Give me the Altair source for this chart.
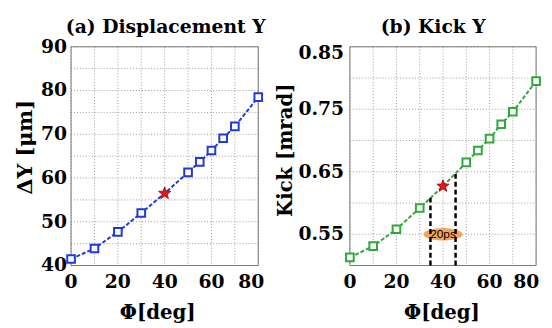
import math
import altair as alt
import pandas as pd

# ---------------- data ----------------
phi = [0, 10, 20, 30, 40, 50, 55, 60, 65, 70, 80]
delta_y = [41.5, 43.9, 47.7, 52.0, 56.5, 61.3, 63.7, 66.3, 69.1, 71.8, 78.5]
kick = [0.513, 0.531, 0.558, 0.592, 0.627, 0.665, 0.684, 0.703, 0.726, 0.746, 0.795]
star_phi = 40
star_dy = 56.5
star_kick = 0.627

win_phi = [34.6, 45.4]            # 20 ps window (panel b)
win_kick_top = [0.608, 0.648]
win_label = "20ps"
win_label_phi = 40
win_label_kick = 0.550

x_grid = [0, 10, 20, 30, 40, 50, 60, 70, 80]
x_ticks = [0, 20, 40, 60, 80]
ya_grid = [40, 45, 50, 55, 60, 65, 70, 75, 80, 85, 90]
ya_ticks = [40, 50, 60, 70, 80, 90]
yb_grid = [0.50, 0.55, 0.60, 0.65, 0.70, 0.75, 0.80, 0.85]
yb_ticks = [0.55, 0.65, 0.75, 0.85]

titles = ["(a) Displacement Y", "(b) Kick Y"]
x_title = "Φ[deg]"
ya_title = "ΔY [μm]"
yb_title = "Kick [mrad]"

# ---------------- panel geometry (two panels in one view) ----------------
PA_W, PB_W, P_H, PB_X0 = 190, 189, 222, 283
TOTAL_W = PB_X0 + PB_W
BLUE, GREEN = "#1f3ad6", "#2fa83a"
FONT = "DejaVu Serif"


def ax(p):
    return p * PA_W / 80


def bx(p):
    return PB_X0 + p * PB_W / 80


def ay(v):
    return P_H * (90 - v) / 50


def by(v):
    return P_H * (0.85 - v) / 0.35


XS = alt.Scale(domain=[0, TOTAL_W], nice=False, zero=False)
YS = alt.Scale(domain=[0, P_H], nice=False, zero=False, reverse=True)


def X(f="x"):
    return alt.X(f + ":Q", scale=XS, axis=None)


def Y(f="y"):
    return alt.Y(f + ":Q", scale=YS, axis=None)


# grid lines
grid_rows = []
for p in x_grid:
    grid_rows.append((ax(p), ax(p), 0.0, float(P_H)))
    grid_rows.append((bx(p), bx(p), 0.0, float(P_H)))
for v in ya_grid:
    grid_rows.append((0.0, float(PA_W), ay(v), ay(v)))
for v in yb_grid:
    grid_rows.append((float(PB_X0), float(TOTAL_W), by(v), by(v)))
df_grid = pd.DataFrame(grid_rows, columns=["x", "x2", "y", "y2"])

df_box = pd.DataFrame({"x": [0.0, float(PB_X0)], "x2": [float(PA_W), float(TOTAL_W)],
                       "y": [0.0, 0.0], "y2": [float(P_H), float(P_H)]})

df_la = pd.DataFrame({"x": [ax(p) for p in phi], "y": [ay(v) for v in delta_y]})
df_lb = pd.DataFrame({"x": [bx(p) for p in phi], "y": [by(v) for v in kick]})
df_sa = df_la[[p != star_phi for p in phi]].reset_index(drop=True)
df_sb = df_lb[[p != star_phi for p in phi]].reset_index(drop=True)
df_star = pd.DataFrame({"x": [ax(star_phi), bx(star_phi)], "y": [ay(star_dy), by(star_kick)]})

df_win = pd.DataFrame({"x": [bx(p) for p in win_phi], "y": [by(0.50)] * 2,
                       "y2": [by(v) for v in win_kick_top]})
df_lab = pd.DataFrame({"x": [bx(win_label_phi)], "y": [by(win_label_kick)], "t": [win_label]})

# tick labels
df_ylab = pd.DataFrame(
    [(-4.0, ay(v), str(v)) for v in ya_ticks]
    + [(PB_X0 - 6.0, by(v) + (6 if v > 0.84 else 0), f"{v:.2f}") for v in yb_ticks],
    columns=["x", "y", "t"])
df_xlab = pd.DataFrame(
    [(ax(p) - (7 if p == 80 else 0), P_H + 8.0, str(p)) for p in x_ticks]
    + [(bx(p) - (10 if p == 80 else 0), P_H + 8.0, str(p)) for p in x_ticks],
    columns=["x", "y", "t"])
df_title = pd.DataFrame({"x": [96.0, 367.5], "y": [-14.0, -14.0], "t": titles})
df_xt = pd.DataFrame({"x": [88.0, 376.5], "y": [276.0, 276.0], "t": [x_title, x_title]})
df_yta = pd.DataFrame({"x": [-46.0], "y": [102.0], "t": [ya_title]})
df_ytb = pd.DataFrame({"x": [218.0], "y": [105.0], "t": [yb_title]})

# ---------------- marker shapes (unit box -1..1) ----------------
pts = [(math.cos(2 * math.pi * k / 36), 0.32 * math.sin(2 * math.pi * k / 36)) for k in range(36)]
ellipse_path = "M " + " L ".join(f"{px:.3f} {py:.3f}" for px, py in pts) + " Z"
spts = []
for k in range(10):
    r = 1.0 if k % 2 == 0 else 0.42
    a = -math.pi / 2 + k * math.pi / 5
    spts.append((r * math.cos(a), r * math.sin(a)))
star_path = "M " + " L ".join(f"{px:.3f} {py:.3f}" for px, py in spts) + " Z"

# ---------------- layers ----------------
grid = alt.Chart(df_grid).mark_rule(color="#9a9a9a", strokeWidth=1, strokeDash=[1, 2]).encode(
    x=X(), x2="x2:Q", y=Y(), y2="y2:Q")
box = alt.Chart(df_box).mark_rect(fillOpacity=0, stroke="#777777", strokeWidth=1).encode(
    x=X(), x2="x2:Q", y=Y(), y2="y2:Q")
line_a = alt.Chart(df_la).mark_line(color=BLUE, strokeWidth=2, strokeDash=[4, 2]).encode(x=X(), y=Y())
line_b = alt.Chart(df_lb).mark_line(color=GREEN, strokeWidth=2, strokeDash=[4, 2]).encode(x=X(), y=Y())

ell = alt.Chart(df_lab).mark_point(shape=ellipse_path, size=1550, filled=True, fill="#f5a35c",
                                   strokeWidth=0, opacity=1).encode(x=X(), y=Y())
win = alt.Chart(df_win).mark_rule(color="black", strokeWidth=2.5, strokeDash=[5, 3]).encode(
    x=X(), y=Y(), y2="y2:Q")
win_txt = alt.Chart(df_lab).mark_text(font="Liberation Sans", fontSize=12, color="black").encode(
    x=X(), y=Y(), text="t:N")

sq_a = alt.Chart(df_sa).mark_point(shape="square", size=60, filled=True, fill="white",
                                   stroke=BLUE, strokeWidth=2, opacity=1).encode(x=X(), y=Y())
sq_b = alt.Chart(df_sb).mark_point(shape="square", size=60, filled=True, fill="white",
                                   stroke=GREEN, strokeWidth=2, opacity=1).encode(x=X(), y=Y())
stars = alt.Chart(df_star).mark_point(shape=star_path, size=170, filled=True, fill="#e3141c",
                                      stroke="#a00000", strokeWidth=0.8, opacity=1).encode(x=X(), y=Y())

ylab = alt.Chart(df_ylab).mark_text(font=FONT, fontWeight="bold", fontSize=19, color="black",
                                    align="right", baseline="middle").encode(x=X(), y=Y(), text="t:N")
xlab = alt.Chart(df_xlab).mark_text(font=FONT, fontWeight="bold", fontSize=19, color="black",
                                    align="center", baseline="top").encode(x=X(), y=Y(), text="t:N")
ttl = alt.Chart(df_title).mark_text(font=FONT, fontWeight="bold", fontSize=19, color="black",
                                    align="center", baseline="alphabetic").encode(x=X(), y=Y(), text="t:N")
xt = alt.Chart(df_xt).mark_text(font=FONT, fontWeight="bold", fontSize=20, color="black",
                                align="center", baseline="alphabetic").encode(x=X(), y=Y(), text="t:N")
yta = alt.Chart(df_yta).mark_text(font=FONT, fontWeight="bold", fontSize=21, color="black",
                                  align="center", baseline="middle", angle=270).encode(x=X(), y=Y(), text="t:N")
ytb = alt.Chart(df_ytb).mark_text(font=FONT, fontWeight="bold", fontSize=20, color="black",
                                  align="center", baseline="middle", angle=270).encode(x=X(), y=Y(), text="t:N")

chart = alt.layer(
    grid, box, line_a, line_b, ell, win, sq_a, sq_b, stars, win_txt,
    ylab, xlab, ttl, xt, yta, ytb,
).properties(
    width=TOTAL_W, height=P_H,
    padding={"left": 7, "top": 8, "right": 0, "bottom": 0},
).configure_view(strokeWidth=0)

chart.save("out.html", embed_options={"renderer": "svg", "actions": False})
